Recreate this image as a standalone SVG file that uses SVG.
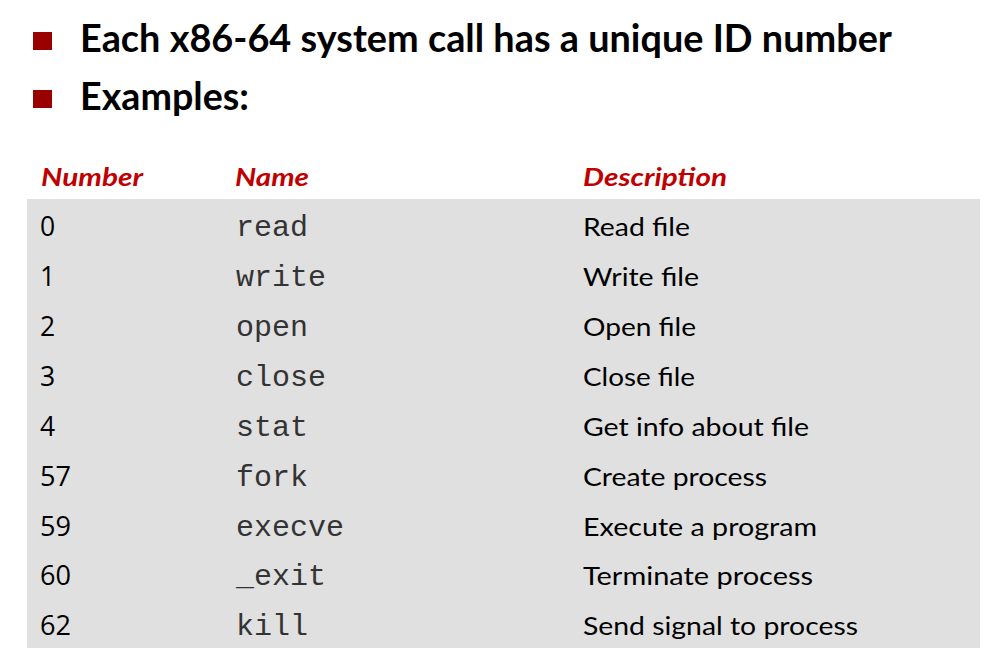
<svg xmlns="http://www.w3.org/2000/svg" width="994" height="666" viewBox="0 0 994 666">
<style>
.bul{fill:#990000}
.title{font-family:Lato,"Liberation Sans",sans-serif;font-weight:bold;font-size:39px;fill:#000}
.hdr{font-family:Lato,"Liberation Sans",sans-serif;font-weight:bold;font-style:italic;font-size:25px;fill:#c00000}
.desc{font-family:Lato,"Liberation Sans",sans-serif;font-size:25.5px;fill:#000}
.num{font-family:"Open Sans",Lato,sans-serif;font-size:26.5px;fill:#000}
.name{font-family:"Liberation Mono","Courier New",monospace;font-size:30px;fill:#333}
</style>
<rect width="994" height="666" fill="#ffffff"/>
<g id="bullets">
<rect class="bul" x="33" y="32" width="19" height="18"/>
<text class="title" x="80" y="52" textLength="812" lengthAdjust="spacingAndGlyphs">Each x86-64 system call has a unique ID number</text>
<rect class="bul" x="33" y="90" width="19" height="18"/>
<text class="title" x="80" y="110" textLength="169" lengthAdjust="spacingAndGlyphs">Examples:</text>
</g>
<g id="table-header">
<text class="hdr" x="41" y="186" textLength="102" lengthAdjust="spacingAndGlyphs">Number</text>
<text class="hdr" x="235" y="186" textLength="74" lengthAdjust="spacingAndGlyphs">Name</text>
<text class="hdr" x="583" y="186" textLength="144" lengthAdjust="spacingAndGlyphs">Description</text>
</g>
<rect id="table-bg" x="27" y="199" width="953" height="449" fill="#e0e0e0"/>
<g id="row-0"><text class="num" x="40" y="236">0</text><text class="name" x="236" y="236">read</text><text class="desc" x="583" y="236" textLength="107" lengthAdjust="spacingAndGlyphs">Read file</text></g>
<g id="row-1"><text class="num" x="40" y="286">1</text><text class="name" x="236" y="286">write</text><text class="desc" x="583" y="286" textLength="116" lengthAdjust="spacingAndGlyphs">Write file</text></g>
<g id="row-2"><text class="num" x="40" y="336">2</text><text class="name" x="236" y="336">open</text><text class="desc" x="583" y="336" textLength="113" lengthAdjust="spacingAndGlyphs">Open file</text></g>
<g id="row-3"><text class="num" x="40" y="386">3</text><text class="name" x="236" y="386">close</text><text class="desc" x="583" y="386" textLength="112" lengthAdjust="spacingAndGlyphs">Close file</text></g>
<g id="row-4"><text class="num" x="40" y="436">4</text><text class="name" x="236" y="436">stat</text><text class="desc" x="583" y="436" textLength="226" lengthAdjust="spacingAndGlyphs">Get info about file</text></g>
<g id="row-57"><text class="num" x="40" y="486" textLength="31" lengthAdjust="spacingAndGlyphs">57</text><text class="name" x="236" y="486">fork</text><text class="desc" x="583" y="486" textLength="184" lengthAdjust="spacingAndGlyphs">Create process</text></g>
<g id="row-59"><text class="num" x="40" y="536" textLength="31" lengthAdjust="spacingAndGlyphs">59</text><text class="name" x="236" y="536">execve</text><text class="desc" x="583" y="536" textLength="234" lengthAdjust="spacingAndGlyphs">Execute a program</text></g>
<g id="row-60"><text class="num" x="40" y="585" textLength="31" lengthAdjust="spacingAndGlyphs">60</text><text class="name" x="236" y="585">_exit</text><text class="desc" x="583" y="585" textLength="230" lengthAdjust="spacingAndGlyphs">Terminate process</text></g>
<g id="row-62"><text class="num" x="40" y="635" textLength="31" lengthAdjust="spacingAndGlyphs">62</text><text class="name" x="236" y="635">kill</text><text class="desc" x="583" y="635" textLength="275" lengthAdjust="spacingAndGlyphs">Send signal to process</text></g>
</svg>
